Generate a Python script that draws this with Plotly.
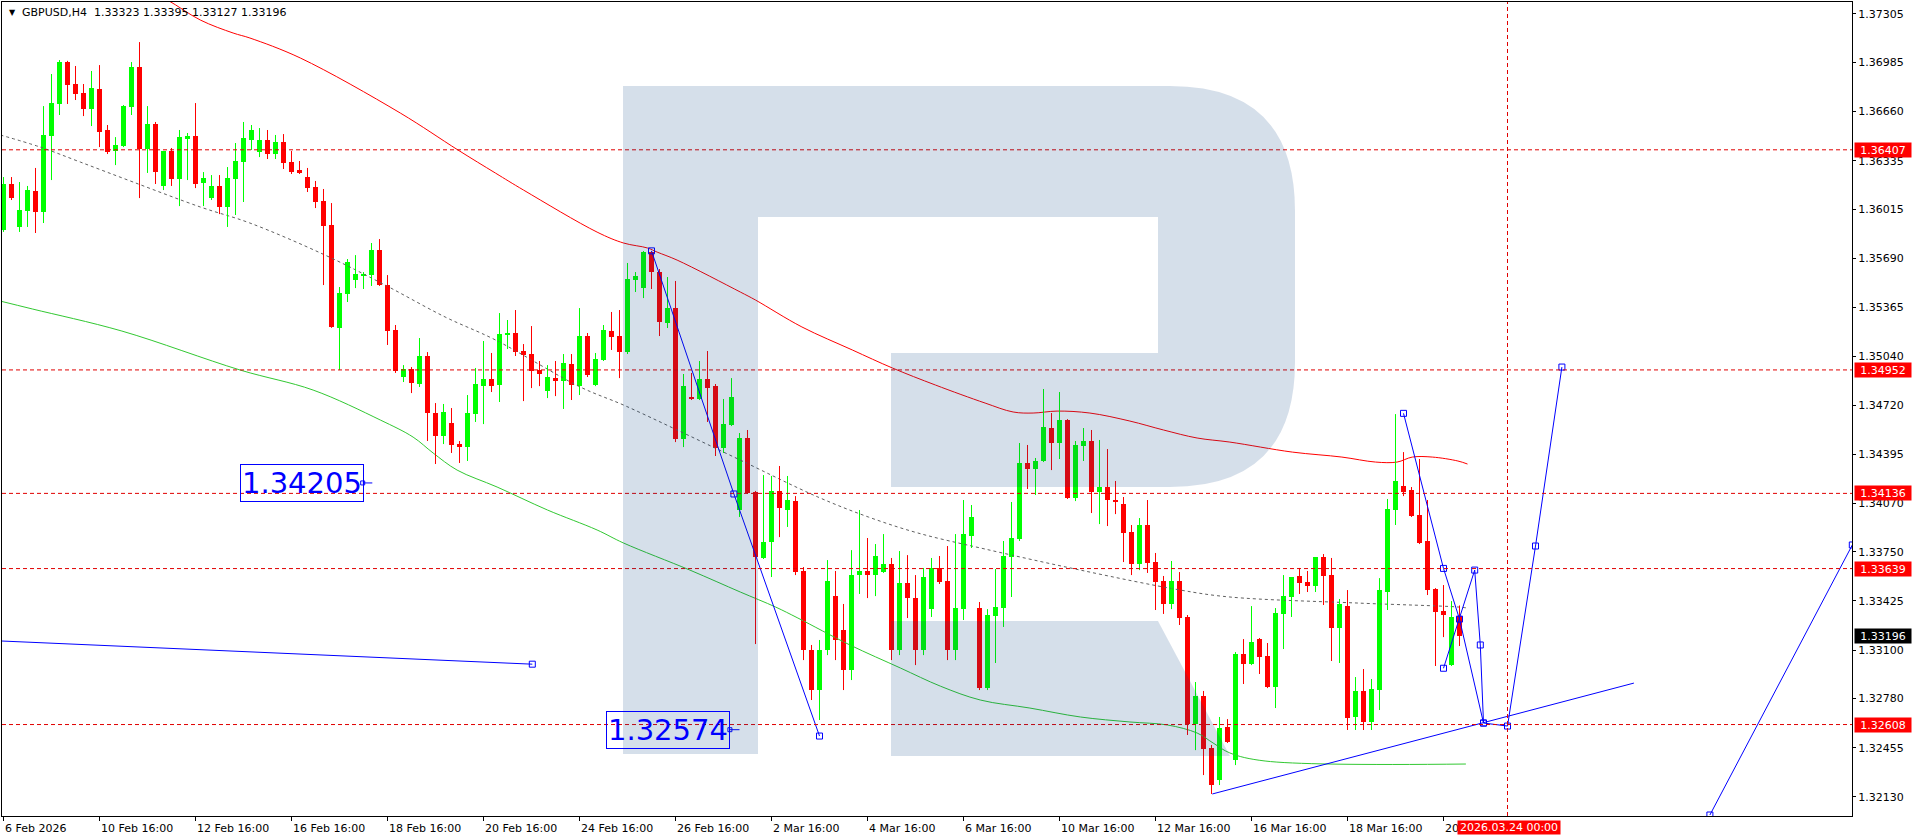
import plotly.graph_objects as go

# ---------------- data ----------------
tick_bars = list(range(0, 181, 12))
tick_labels = ["6 Feb 2026", "10 Feb 16:00", "12 Feb 16:00", "16 Feb 16:00", "18 Feb 16:00",
               "20 Feb 16:00", "24 Feb 16:00", "26 Feb 16:00", "2 Mar 16:00", "4 Mar 16:00",
               "6 Mar 16:00", "10 Mar 16:00", "12 Mar 16:00", "16 Mar 16:00", "18 Mar 16:00",
               "20"]
price_ticks = [1.37305, 1.36985, 1.36660, 1.36335, 1.36015, 1.35690, 1.35365, 1.35040, 1.34720,
               1.34395, 1.34070, 1.33750, 1.33425, 1.33100, 1.32780, 1.32455, 1.32130]

opens = [1.35877, 1.36181, 1.35897, 1.36002, 1.36135, 1.35996, 1.36498, 1.36710, 1.36987, 1.36842,
         1.36782, 1.36677, 1.36809, 1.36538, 1.36399, 1.36432, 1.36690, 1.36954, 1.36412, 1.36577,
         1.36168, 1.36399, 1.36214, 1.36485, 1.36498, 1.36187, 1.36088, 1.36168, 1.36029, 1.36214,
         1.36326, 1.36472, 1.36392, 1.36472, 1.36379, 1.36458, 1.36326, 1.36273, 1.36227, 1.36161,
         1.36068, 1.35910, 1.35229, 1.35454, 1.35546, 1.35573, 1.35579, 1.35745, 1.35513, 1.35216,
         1.34905, 1.34958, 1.34859, 1.35044, 1.34667, 1.34515, 1.34601, 1.34462, 1.34442, 1.34660,
         1.34845, 1.34892, 1.34852, 1.35183, 1.35196, 1.35077, 1.35057, 1.34951, 1.34813, 1.34898,
         1.34879, 1.34991, 1.34845, 1.35176, 1.34852, 1.35017, 1.35209, 1.35176, 1.35070, 1.35546,
         1.35493, 1.35731, 1.35599, 1.35262, 1.35361, 1.34495, 1.34773, 1.34760, 1.34892, 1.34845,
         1.34436, 1.34588, 1.34026, 1.34502, 1.34145, 1.33709, 1.33814, 1.34152, 1.34026, 1.34085,
         1.33623, 1.33100, 1.32836, 1.33100, 1.33457, 1.33233, 1.32968, 1.33596, 1.33623, 1.33596,
         1.33616, 1.33669, 1.33100, 1.33543, 1.33444, 1.33100, 1.33371, 1.33643, 1.33557, 1.33100,
         1.33371, 1.33854, 1.33378, 1.32849, 1.33325, 1.33378, 1.33715, 1.33834, 1.34337, 1.34297,
         1.34350, 1.34568, 1.34469, 1.34621, 1.34105, 1.34449, 1.34482, 1.34145, 1.34178, 1.34092,
         1.34066, 1.33880, 1.33669, 1.33927, 1.33682, 1.33557, 1.33405, 1.33557, 1.33319, 1.32611,
         1.32796, 1.32453, 1.32241, 1.32592, 1.32373, 1.33074, 1.33008, 1.33173, 1.33061, 1.32856,
         1.33339, 1.33451, 1.33590, 1.33550, 1.33524, 1.33715, 1.33596, 1.33246, 1.33391, 1.32658,
         1.32830, 1.32625, 1.32836, 1.33484, 1.34026, 1.34185, 1.34158, 1.33993, 1.33821, 1.33504,
         1.33358, 1.33001, 1.33323]
highs = [1.36227, 1.36227, 1.36194, 1.36168, 1.36287, 1.36696, 1.36908, 1.37000, 1.36995, 1.36961,
         1.36842, 1.36928, 1.36967, 1.36571, 1.36491, 1.36703, 1.36987, 1.37119, 1.36696, 1.36591,
         1.36399, 1.36419, 1.36538, 1.36518, 1.36716, 1.36260, 1.36240, 1.36240, 1.36293, 1.36452,
         1.36591, 1.36571, 1.36551, 1.36538, 1.36505, 1.36511, 1.36399, 1.36333, 1.36287, 1.36201,
         1.36148, 1.36055, 1.35500, 1.35685, 1.35711, 1.35599, 1.35791, 1.35817, 1.35579, 1.35249,
         1.34984, 1.34971, 1.35163, 1.35070, 1.34733, 1.34727, 1.34700, 1.34482, 1.34786, 1.34965,
         1.35143, 1.35064, 1.35328, 1.35282, 1.35348, 1.35123, 1.35242, 1.35011, 1.34984, 1.35011,
         1.35057, 1.35057, 1.35361, 1.35196, 1.35064, 1.35249, 1.35335, 1.35348, 1.35659, 1.35599,
         1.35738, 1.35738, 1.35619, 1.35566, 1.35540, 1.34925, 1.34932, 1.35011, 1.35077, 1.34859,
         1.34760, 1.34898, 1.34535, 1.34555, 1.34152, 1.34257, 1.34251, 1.34317, 1.34251, 1.34118,
         1.33649, 1.33134, 1.33167, 1.33695, 1.33623, 1.33405, 1.33761, 1.34026, 1.33841, 1.33801,
         1.33867, 1.33709, 1.33755, 1.33728, 1.33596, 1.33643, 1.33709, 1.33722, 1.33788, 1.33867,
         1.34092, 1.34059, 1.33418, 1.33371, 1.33636, 1.33821, 1.34079, 1.34469, 1.34456, 1.34370,
         1.34826, 1.34667, 1.34806, 1.34627, 1.34482, 1.34568, 1.34555, 1.34489, 1.34429, 1.34218,
         1.34112, 1.33927, 1.33973, 1.34092, 1.33742, 1.33590, 1.33689, 1.33616, 1.33332, 1.32889,
         1.32830, 1.32473, 1.32658, 1.32644, 1.33087, 1.33173, 1.33391, 1.33180, 1.33147, 1.33378,
         1.33596, 1.33583, 1.33643, 1.33623, 1.33715, 1.33735, 1.33709, 1.33438, 1.33497, 1.32922,
         1.32975, 1.32909, 1.33576, 1.34099, 1.34660, 1.34409, 1.34178, 1.34363, 1.34092, 1.33510,
         1.33530, 1.33424, 1.33395]
lows = [1.35864, 1.36075, 1.35864, 1.35897, 1.35857, 1.35923, 1.36207, 1.36637, 1.36710, 1.36736,
        1.36630, 1.36564, 1.36425, 1.36379, 1.36306, 1.36425, 1.36637, 1.36088, 1.36254, 1.36181,
        1.36141, 1.36168, 1.36035, 1.36207, 1.36154, 1.36035, 1.36075, 1.35982, 1.35897, 1.35976,
        1.36062, 1.36406, 1.36359, 1.36346, 1.36346, 1.36280, 1.36247, 1.36247, 1.36128, 1.36022,
        1.35513, 1.35230, 1.34951, 1.35401, 1.35493, 1.35487, 1.35507, 1.35507, 1.35117, 1.34932,
        1.34872, 1.34799, 1.34839, 1.34482, 1.34330, 1.34462, 1.34403, 1.34337, 1.34350, 1.34608,
        1.34594, 1.34806, 1.34740, 1.35090, 1.35044, 1.34746, 1.34832, 1.34845, 1.34766, 1.34779,
        1.34694, 1.34753, 1.34786, 1.34905, 1.34845, 1.35011, 1.35084, 1.34898, 1.35057, 1.35467,
        1.35427, 1.35487, 1.35176, 1.35229, 1.34475, 1.34442, 1.34753, 1.34753, 1.34608, 1.34383,
        1.34403, 1.34581, 1.33980, 1.34132, 1.33140, 1.33702, 1.33583, 1.33847, 1.33914, 1.33596,
        1.33034, 1.32770, 1.32638, 1.33067, 1.33034, 1.32836, 1.32902, 1.33471, 1.33444, 1.33457,
        1.33610, 1.33034, 1.33067, 1.33312, 1.33001, 1.33067, 1.33319, 1.33537, 1.33034, 1.33034,
        1.33299, 1.33775, 1.32836, 1.32836, 1.33015, 1.33253, 1.33451, 1.33821, 1.34165, 1.34125,
        1.34343, 1.34290, 1.34363, 1.34099, 1.34085, 1.34350, 1.34006, 1.33933, 1.33920, 1.33999,
        1.33682, 1.33596, 1.33629, 1.33610, 1.33365, 1.33339, 1.33371, 1.33266, 1.32539, 1.32439,
        1.32274, 1.32149, 1.32208, 1.32486, 1.32340, 1.32876, 1.33001, 1.32942, 1.32849, 1.32717,
        1.33107, 1.33319, 1.33471, 1.33484, 1.33484, 1.33398, 1.33028, 1.33015, 1.32572, 1.32572,
        1.32572, 1.32572, 1.32704, 1.33365, 1.33927, 1.34118, 1.33980, 1.33801, 1.33464, 1.32995,
        1.33186, 1.32995, 1.33127]
closes = [1.36181, 1.36088, 1.36009, 1.36141, 1.35996, 1.36505, 1.36716, 1.36987, 1.36835, 1.36776,
          1.36677, 1.36815, 1.36525, 1.36392, 1.36439, 1.36696, 1.36954, 1.36412, 1.36577, 1.36260,
          1.36399, 1.36214, 1.36491, 1.36498, 1.36181, 1.36220, 1.36168, 1.36029, 1.36220, 1.36333,
          1.36485, 1.36538, 1.36472, 1.36379, 1.36458, 1.36320, 1.36260, 1.36260, 1.36154, 1.36062,
          1.35903, 1.35236, 1.35460, 1.35665, 1.35586, 1.35586, 1.35745, 1.35513, 1.35209, 1.34945,
          1.34958, 1.34865, 1.35044, 1.34667, 1.34515, 1.34674, 1.34456, 1.34442, 1.34667, 1.34859,
          1.34892, 1.34845, 1.35189, 1.35196, 1.35070, 1.35050, 1.34945, 1.34925, 1.34905, 1.34879,
          1.34998, 1.34852, 1.35176, 1.34918, 1.35024, 1.35216, 1.35169, 1.35070, 1.35553, 1.35573,
          1.35731, 1.35599, 1.35269, 1.35361, 1.34495, 1.34845, 1.34760, 1.34892, 1.34832, 1.34436,
          1.34594, 1.34773, 1.34502, 1.34138, 1.33715, 1.33814, 1.34152, 1.34039, 1.34092, 1.33616,
          1.33100, 1.32836, 1.33100, 1.33557, 1.33167, 1.32968, 1.33596, 1.33623, 1.33596, 1.33722,
          1.33669, 1.33100, 1.33543, 1.33444, 1.33100, 1.33583, 1.33643, 1.33550, 1.33100, 1.33378,
          1.33867, 1.33980, 1.32849, 1.33332, 1.33385, 1.33722, 1.33841, 1.34337, 1.34297, 1.34350,
          1.34575, 1.34469, 1.34621, 1.34105, 1.34456, 1.34482, 1.34145, 1.34178, 1.34092, 1.34085,
          1.33874, 1.33669, 1.33927, 1.33676, 1.33550, 1.33405, 1.33557, 1.33312, 1.32611, 1.32796,
          1.32446, 1.32208, 1.32585, 1.32492, 1.33074, 1.33008, 1.33153, 1.33054, 1.32856, 1.33345,
          1.33457, 1.33583, 1.33543, 1.33524, 1.33715, 1.33590, 1.33246, 1.33405, 1.32651, 1.32830,
          1.32625, 1.32843, 1.33497, 1.34033, 1.34218, 1.34145, 1.33986, 1.33808, 1.33497, 1.33352,
          1.33332, 1.33319, 1.33196]

levels = [1.36407, 1.34952, 1.34136, 1.33639, 1.32608]
last_price = 1.33196
future_bar = 188
future_label = "2026.03.24 00:00"
header = "GBPUSD,H4\u00a0\u00a01.33323 1.33395 1.33127 1.33196"

ma_red_bar = [17.5, 20.5, 24.6, 28.7, 30.8, 37.1, 49.6, 56.8, 61.5, 65.0, 74.2, 77.5, 80.5, 81.7,
              84.2, 92.1, 94.0, 99.8, 106.1, 111.1, 116.5, 122.7, 126.2, 128.7, 131.7, 135.8,
              140.8, 145.0, 149.2, 153.3, 161.1, 167.3, 171.5, 174.2, 176.1, 178.6, 181.8, 183.0]
ma_red_val = [1.37476, 1.37397, 1.37265, 1.37179, 1.37146, 1.37014, 1.36650, 1.36406, 1.36253,
              1.36141, 1.35863, 1.35791, 1.35758, 1.35731, 1.35678, 1.35467, 1.35414, 1.35236,
              1.35084, 1.34965, 1.34852, 1.34733, 1.34674, 1.34667, 1.34680, 1.34667, 1.34614,
              1.34555, 1.34502, 1.34475, 1.34409, 1.34376, 1.34343, 1.34343, 1.34376, 1.34376,
              1.34350, 1.34330]
ma_green_bar = [-0.4, 3.6, 14.8, 29.6, 38.7, 47.1, 51.2, 53.7, 56.7, 61.7, 68.0, 74.2, 77.5, 85.8,
                92.1, 96.5, 99.3, 105.8, 112.1, 117.1, 122.1, 128.3, 134.6, 140.8, 145.5, 149.2,
                151.2, 153.3, 157.7, 182.8]
ma_green_val = [1.35407, 1.35355, 1.35209, 1.34951, 1.34819, 1.34621, 1.34508, 1.34403, 1.34290,
                1.34178, 1.34026, 1.33894, 1.33808, 1.33629, 1.33484, 1.33385, 1.33312, 1.33134,
                1.32982, 1.32862, 1.32770, 1.32717, 1.32658, 1.32625, 1.32605, 1.32552, 1.32486,
                1.32420, 1.32367, 1.32347]
ma_gray_bar = [-0.4, 4.6, 9.6, 16.2, 24.6, 30.8, 40.2, 47.7, 55.2, 61.5, 72.1, 77.5, 84.2, 92.1,
               101.8, 108.1, 114.3, 122.7, 134.6, 147.1, 153.3, 169.3, 181.8, 183.0]
ma_gray_val = [1.36505, 1.36425, 1.36326, 1.36194, 1.36029, 1.35923, 1.35711, 1.35513, 1.35302,
               1.35150, 1.34839, 1.34720, 1.34555, 1.34356, 1.34112, 1.33980, 1.33874, 1.33768,
               1.33629, 1.33497, 1.33451, 1.33411, 1.33385, 1.33378]

trend_left_bar = [-0.2, 66.1]
trend_left_val = [1.33160, 1.33007]
zig1_bar = [81.0, 91.3, 102.0]
zig1_val = [1.35739, 1.34132, 1.32532]
trend_low_bar = [151.1, 203.8]
trend_low_val = [1.32149, 1.32882]
zig2a_bar = [175.0, 180.0, 182.0, 185.0]
zig2a_val = [1.34665, 1.33640, 1.33305, 1.32618]
zig2b_bar = [180.0, 183.9, 184.6, 185.0, 188.0, 191.5, 194.8]
zig2b_val = [1.32980, 1.33629, 1.33134, 1.32618, 1.32598, 1.33788, 1.34971]
far_bar = [213.3, 231.1]
far_val = [1.32010, 1.33795]

label1_text, label1_bar, label1_val = "1.34205", 37.25, 1.34205
label1_tick_bar = [44.9, 46.1]
label2_text, label2_bar, label2_val = "1.32574", 83.1, 1.32574
label2_tick_bar = [90.8, 92.0]

# ---------------- figure ----------------
UP = "#00ff00"
DN = "#ff0000"
BLUE = "#0000ff"
FONT = "DejaVu Sans"

X0, X1 = -0.1875, 231.0625
Y1 = 1.37384
Y0 = Y1 - 814 * 0.0000661


def px(x):
    return (x - 2) / 1850.0


def py(y):
    return (816 - y) / 814.0


fig = go.Figure()

n = len(opens)
up_i = [i for i in range(n) if closes[i] >= opens[i]]
dn_i = [i for i in range(n) if closes[i] < opens[i]]


def wick_xy(ids):
    xs, ys = [], []
    for i in ids:
        xs += [i, i, None]
        ys += [lows[i], highs[i], None]
    return xs, ys


def body(ids):
    base = [min(opens[i], closes[i]) for i in ids]
    hgt = [max(abs(closes[i] - opens[i]), 0.00007) for i in ids]
    return base, hgt


# moving averages (drawn under candles)
fig.add_trace(go.Scatter(x=ma_gray_bar, y=ma_gray_val, mode="lines", line_shape="spline",
                         line=dict(color="#606060", width=1, dash="3px,3px")))
fig.add_trace(go.Scatter(x=ma_green_bar, y=ma_green_val, mode="lines", line_shape="spline",
                         line=dict(color="#32c832", width=1)))
fig.add_trace(go.Scatter(x=ma_red_bar, y=ma_red_val, mode="lines", line_shape="spline",
                         line=dict(color="#ff0000", width=1)))

for ids, col in ((up_i, UP), (dn_i, DN)):
    xs, ys = wick_xy(ids)
    fig.add_trace(go.Scatter(x=xs, y=ys, mode="lines", line=dict(color=col, width=1)))
    base, hgt = body(ids)
    fig.add_trace(go.Bar(x=ids, y=hgt, base=base, width=0.625,
                         marker=dict(color=col, line=dict(width=0))))

# blue drawings
for bx, by, marks in ((trend_left_bar, trend_left_val, [False, True]),
                      (zig1_bar, zig1_val, [True, True, True]),
                      (trend_low_bar, trend_low_val, [False, False]),
                      (zig2a_bar, zig2a_val, [True, True, True, True]),
                      (zig2b_bar, zig2b_val, [True, True, True, True, True, True, True]),
                      (far_bar, far_val, [True, True])):
    fig.add_trace(go.Scatter(x=bx, y=by, mode="lines", line=dict(color=BLUE, width=1)))
    mx = [b for b, m in zip(bx, marks) if m]
    my = [v for v, m in zip(by, marks) if m]
    fig.add_trace(go.Scatter(x=mx, y=my, mode="markers",
                             marker=dict(symbol="square-open", size=6, color=BLUE,
                                         line=dict(width=1, color=BLUE))))

for tb, val in ((label1_tick_bar, label1_val), (label2_tick_bar, label2_val)):
    fig.add_trace(go.Scatter(x=tb, y=[val, val], mode="lines", line=dict(color=BLUE, width=1)))
    fig.add_trace(go.Scatter(x=[tb[0]], y=[val], mode="markers",
                             marker=dict(symbol="square-open", size=4, color=BLUE)))

shapes = []
for lv in levels:
    shapes.append(dict(type="line", xref="paper", x0=0, x1=1, yref="y", y0=lv, y1=lv,
                       line=dict(color="#e00000", width=1, dash="4px,3px"), layer="above"))
shapes.append(dict(type="line", xref="x", x0=future_bar, x1=future_bar, yref="paper", y0=0, y1=1,
                   line=dict(color="#e00000", width=1, dash="4px,3px"), layer="above"))


def P(x, y):
    return f"{px(x):.5f},{py(y):.5f}"


logo_outer = (f"M {P(623, 86)} L {P(1170, 86)} Q {P(1295, 86)} {P(1295, 211)} "
              f"L {P(1295, 362)} Q {P(1295, 487)} {P(1170, 487)} L {P(891, 487)} "
              f"L {P(891, 353)} L {P(1158, 353)} L {P(1158, 217)} L {P(758, 217)} "
              f"L {P(758, 754)} L {P(623, 754)} Z")
logo_leg = f"M {P(891, 621)} L {P(1158, 621)} L {P(1230, 756)} L {P(891, 756)} Z"
for pth in (logo_outer, logo_leg):
    shapes.append(dict(type="path", xref="paper", yref="paper", path=pth,
                       fillcolor="rgba(0,61,128,0.165)", line=dict(width=0), layer="above"))

annotations = []
annotations.append(dict(xref="paper", yref="paper", x=px(7), y=py(12), xanchor="left",
                        yanchor="middle", text="\u25bc", showarrow=False,
                        font=dict(family=FONT, size=8, color="black")))
annotations.append(dict(xref="paper", yref="paper", x=px(20), y=py(12), xanchor="left",
                        yanchor="middle", text=header, showarrow=False,
                        font=dict(family=FONT, size=11, color="black")))
for lab_text, lb, lv in ((label1_text, label1_bar, label1_val), (label2_text, label2_bar, label2_val)):
    annotations.append(dict(xref="x", yref="y", x=lb, y=lv, text=lab_text, showarrow=False,
                            font=dict(family=FONT, size=29, color=BLUE), bordercolor=BLUE,
                            borderwidth=1, borderpad=1, xanchor="center", yanchor="middle"))
for tb, tl in zip(tick_bars, tick_labels):
    annotations.append(dict(xref="x", yref="paper", x=tb, y=0, yanchor="top", xanchor="left",
                            yshift=-4, xshift=-1, text=tl, showarrow=False,
                            font=dict(family=FONT, size=11, color="black")))
for lv in levels:
    annotations.append(dict(xref="paper", yref="y", x=1, y=lv, xanchor="left", yanchor="middle",
                            xshift=2, text=f"{lv:.5f}", showarrow=False, bgcolor="#ff0000",
                            width=54, height=12, borderpad=1,
                            font=dict(family=FONT, size=11, color="white")))
annotations.append(dict(xref="paper", yref="y", x=1, y=last_price, xanchor="left", yanchor="middle",
                        xshift=2, text=f"{last_price:.5f}", showarrow=False, bgcolor="#000000",
                        width=54, height=12, borderpad=1,
                        font=dict(family=FONT, size=11, color="white")))
annotations.append(dict(xref="x", yref="paper", x=future_bar, y=0, xanchor="center", yanchor="top",
                        yshift=-4, xshift=1, text=future_label, showarrow=False, bgcolor="#ff0000",
                        width=102, height=13, borderpad=0,
                        font=dict(family=FONT, size=11, color="white")))

fig.update_layout(width=1916, height=840, margin=dict(l=2, r=64, t=2, b=24),
                  paper_bgcolor="white", plot_bgcolor="white", showlegend=False,
                  barmode="overlay", bargap=0, hovermode=False,
                  font=dict(family=FONT, size=11, color="black"),
                  shapes=shapes, annotations=annotations)
fig.update_xaxes(range=[X0, X1], showgrid=False, zeroline=False, showline=True, linecolor="black",
                 linewidth=1, mirror=True, ticks="outside", ticklen=4, tickcolor="black",
                 tickvals=tick_bars, showticklabels=False, fixedrange=True)
fig.update_yaxes(range=[Y0, Y1], side="right", showgrid=False, zeroline=False, showline=True,
                 linecolor="black", linewidth=1, mirror=True, ticks="outside", ticklen=3,
                 tickcolor="black", tickvals=price_ticks, tickformat=".5f",
                 tickfont=dict(family=FONT, size=11, color="black"), fixedrange=True)

fig.write_html("out.html", config={"displayModeBar": False},
               post_script="document.body.style.margin='0';document.body.style.overflow='hidden';")
